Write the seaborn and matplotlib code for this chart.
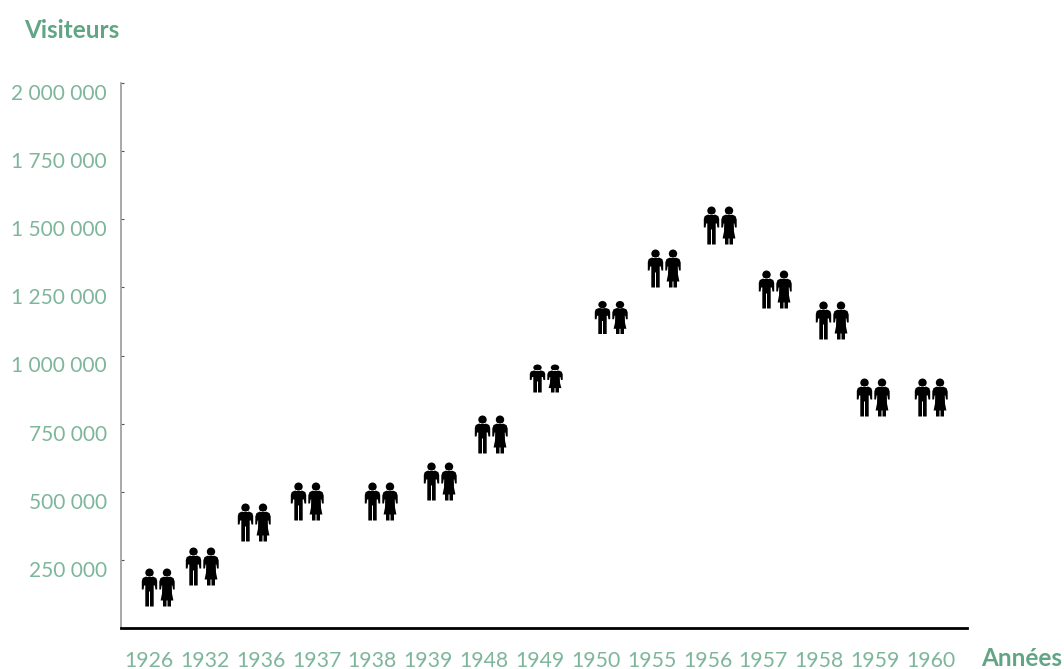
import numpy as np
import pandas as pd
import matplotlib
matplotlib.use("Agg")
import matplotlib.pyplot as plt
import seaborn as sns
from matplotlib.path import Path
from matplotlib.transforms import ScaledTranslation

annees = ["1926", "1932", "1936", "1937", "1938", "1939", "1948", "1949",
          "1950", "1955", "1956", "1957", "1958", "1959", "1960"]
visiteurs = [150000, 228000, 390000, 467000, 467000, 540000, 713000, 919000,
             1143000, 1320000, 1478000, 1243000, 1129000, 849000, 849000]
graduations = [250000, 500000, 750000, 1000000, 1250000, 1500000, 1750000, 2000000]

# hauteur des pictos en px (ils sont ecrases sur 1949 et 1950)
hauteur_picto = [38, 38, 38, 38, 38, 38, 38, 28, 33, 38, 38, 38, 38, 38, 38]
# les pictos ne sont pas alignes sur les annees, decalage en px
decalage_px = [0, -12, -15.5, -18, -0.5, 3, -2, -3, 6, 3.5, 3.5, 2.5, 3.5, -10.5, -9]

VERT = "#7DB69B"
VERT_TITRE = "#62A585"
W, H, DPI = 1064, 669, 100
PAS_PX = 55.85
ECART = 17.5  # distance homme / femme en px


def picto_couple(h):
    # homme centre sur 0, femme sur ECART ; y vers le bas depuis le haut du picto
    homme = [(-4, 8.2), (4, 8.2), (6.8, 9.6), (7.7, 12.5), (7.7, 21), (5.9, 21), (5.4, 17),
             (4.2, 17), (4.2, 38), (0.5, 38), (0.5, 23), (-0.5, 23), (-0.5, 38), (-4.2, 38),
             (-4.2, 17), (-5.4, 17), (-5.9, 21), (-7.7, 21), (-7.7, 12.5), (-6.8, 9.6)]
    femme = [(-3.5, 8.2), (3.5, 8.2), (6.5, 9.6), (7.7, 13), (7.7, 21), (6, 21), (5.4, 17),
             (4.8, 17), (5, 25), (6.4, 32), (4, 32), (4, 38), (0.5, 38), (0.5, 32),
             (-0.5, 32), (-0.5, 38), (-4, 38), (-4, 32), (-6.4, 32), (-5, 25), (-4.8, 17),
             (-5.4, 17), (-6, 21), (-7.7, 21), (-7.7, 13), (-6.5, 9.6)]
    k = h / 38

    def poly(pts, dx):
        v = [(x + dx, (19 - y) * k) for x, y in pts]
        return Path(v + [v[0]], closed=True)

    def tete(dx):
        c = Path.circle((dx, 0), 4.2)
        return Path(np.c_[c.vertices[:, 0], c.vertices[:, 1] * k + (19 - 4.2) * k], c.codes)

    return Path.make_compound_path(tete(0), poly(homme, 0), tete(ECART), poly(femme, ECART))


df = pd.DataFrame({
    "annee": annees,
    "visiteurs": visiteurs,
    "hauteur": hauteur_picto,
    "x": np.arange(len(annees)) + np.array(decalage_px) / PAS_PX,
})

sns.set_theme(style="white")
plt.rcParams["font.family"] = ["Lato", "DejaVu Sans"]

fig = plt.figure(figsize=(W / DPI, H / DPI), dpi=DPI)
ax = fig.add_axes([121 / W, 1 - 628 / H, (967 - 121) / W, (628 - 83) / H])

# un marker matplotlib est normalise sur sa coordonnee max (ici 25.2 px de large)
taille = (2 * (ECART + 7.7) * 72 / DPI) ** 2
for h, groupe in df.groupby("hauteur"):
    sns.scatterplot(data=groupe, x="x", y="visiteurs", marker=picto_couple(h), s=taille,
                    color="black", linewidth=0, legend=False, ax=ax, clip_on=False)

ax.set_xlim(-0.5, -0.5 + (967 - 121) / PAS_PX)
ax.set_ylim(0, 2000000)
ax.set_xlabel("")
ax.set_ylabel("")
ax.set_xticks(np.arange(len(annees)))
ax.set_xticklabels(annees)
ax.set_yticks(graduations)
ax.set_yticklabels([f"{v:,}".replace(",", " ") for v in graduations])

ax.tick_params(axis="x", length=0, pad=16.5, labelsize=15.3, labelcolor=VERT)
ax.tick_params(axis="y", direction="in", length=2.5, width=0.8, color="#555555",
               pad=10.2, labelsize=15, labelcolor=VERT, left=True)
for lab in ax.get_yticklabels():
    lab.set_transform(lab.get_transform() + ScaledTranslation(0, -9 / DPI, fig.dpi_scale_trans))

sns.despine(ax=ax)
ax.spines["left"].set_color("#999999")
ax.spines["left"].set_linewidth(1.2)
ax.spines["bottom"].set_color("black")
ax.spines["bottom"].set_linewidth(2)

fig.text(24 / W, 1 - 30 / H, "Visiteurs", color=VERT_TITRE, fontsize=17.5, fontweight="bold",
         ha="left", va="center")
fig.text(981 / W, 1 - 658 / H, "Années", color=VERT_TITRE, fontsize=17.5, fontweight="bold",
         ha="left", va="center")

fig.savefig("out.png", dpi=DPI, facecolor="white")
